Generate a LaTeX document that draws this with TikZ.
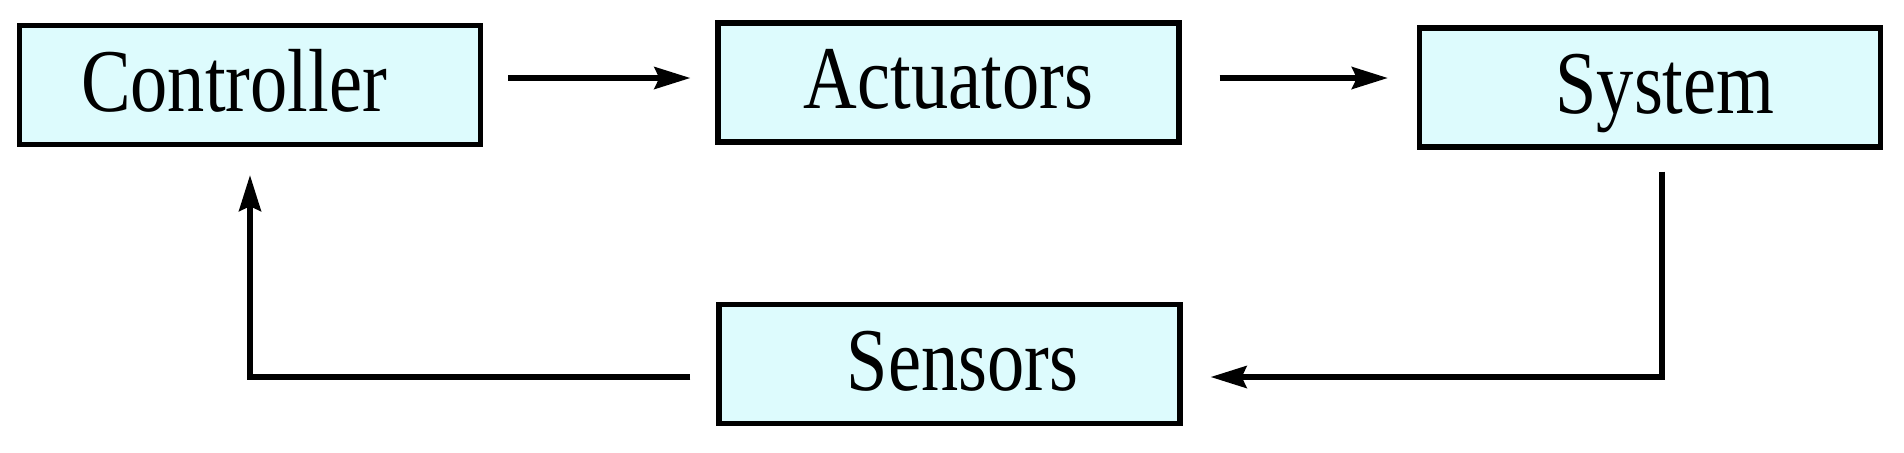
\documentclass[tikz,border=0pt]{standalone}
\usepackage{fontspec}
\setmainfont{Liberation Serif}[FakeStretch=0.83]
\usepackage{tikz}
\usetikzlibrary{arrows.meta}
\definecolor{boxcyan}{RGB}{221,251,253}

\begin{document}
\begin{tikzpicture}[
  blok/.style={draw, line width=1.5pt, fill=boxcyan, minimum width=4.61cm, minimum height=1.19cm,
    inner sep=0pt, font=\fontsize{25.5}{30}\selectfont, text height=19pt, text depth=4pt},
  flow/.style={line width=1.5pt, -{Stealth[length=3.6mm,width=2.2mm,inset=0.5mm]}}]
\useasboundingbox (0,0) rectangle (19.04,4.52);
\node[blok] (ctrl) at (2.50,3.67) {\hspace*{-3.2mm}Controller};
\node[blok] (act) at (9.485,3.695) {Actuators};
\node[blok] (sys) at (16.50,3.645) {\hspace*{3mm}System};
\node[blok] (sens) at (9.495,0.88) {\hspace*{2.6mm}Sensors};
\coordinate (lev) at (0,3.74);
\coordinate (fbr) at (16.62,0.75);
\coordinate (fbl) at (2.50,0.75);
\draw[flow, shorten <=0.25cm, shorten >=0.25cm] (lev -| ctrl.east) -- (lev -| act.west);
\draw[flow, shorten <=0.38cm, shorten >=0.29cm] (lev -| act.east) -- (lev -| sys.west);
\draw[flow, shorten <=0.22cm, shorten >=0.28cm] (sys.south -| fbr) -- (fbr) -- (fbr -| sens.east);
\draw[flow, shorten <=0.26cm, shorten >=0.28cm] (fbl -| sens.west) -- (fbl) -- (ctrl.south);
\end{tikzpicture}
\end{document}
